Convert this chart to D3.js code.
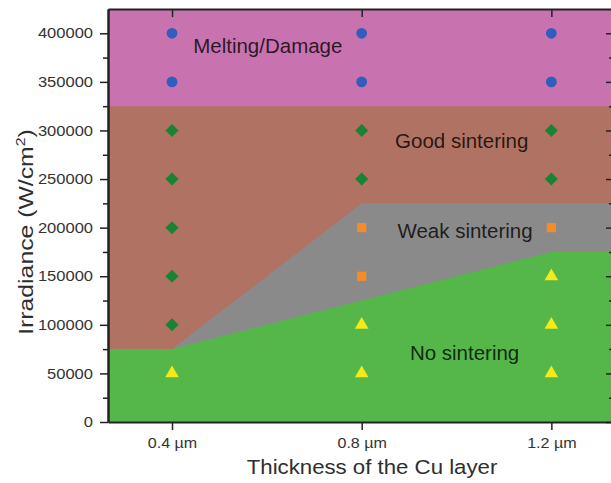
<!DOCTYPE html>
<html>
<head>
<meta charset="utf-8">
<script src="https://cdn.jsdelivr.net/npm/d3@7"></script>
<style>
  body { margin: 0; background: #fff; }
  text { font-family: "Liberation Sans", Arial, sans-serif; }
</style>
</head>
<body>
<svg id="chart" width="611" height="483"></svg>
<script>
// Cu layer thickness (µm) and the tick labels shown for it
const thicknessTicks = [0.4, 0.8, 1.2];
const thicknessLabels = ["0.4 µm", "0.8 µm", "1.2 µm"];

// Irradiance ticks (W/cm²)
const irradianceTicks = [0, 50000, 100000, 150000, 200000, 250000, 300000, 350000, 400000];
const irradianceMinorTicks = [25000, 75000, 125000, 175000, 225000, 275000, 325000, 375000];

// Upper edges of the sintering regimes, as [thickness, irradiance]
const noSinteringEdge = [[0.4, 75000], [1.2, 175000]];
const weakSinteringEdge = [[0.4, 75000], [0.8, 225000]];
const goodSinteringEdge = [[0.4, 325000]];

// Observed outcomes, as [thickness, irradiance]
const meltingPoints = [[0.4, 350000], [0.4, 400000], [0.8, 350000], [0.8, 400000], [1.2, 350000], [1.2, 400000]];
const goodPoints = [[0.4, 100000], [0.4, 150000], [0.4, 200000], [0.4, 250000], [0.4, 300000],
                    [0.8, 250000], [0.8, 300000], [1.2, 250000], [1.2, 300000]];
const weakPoints = [[0.8, 150000], [0.8, 200000], [1.2, 200000]];
const noPoints = [[0.4, 50000], [0.8, 50000], [0.8, 100000], [1.2, 50000], [1.2, 100000], [1.2, 150000]];

// Region names and where they sit, as [thickness, irradiance]
const regionNames = ["Melting/Damage", "Good sintering", "Weak sintering", "No sintering"];
const regionAnchors = [[0.602, 380000], [1.011, 282000], [1.018, 189000], [1.017, 63800]];

const svg = d3.select("#chart");
const plotLeft = 108, plotRight = 613, plotTop = 9, plotBottom = 422;
const axisTextStretch = 1.14;   // axis lettering is set wide

const x = d3.scaleLinear().domain([0.265, 1.33]).range([plotLeft, plotRight]);
const y = d3.scaleLinear().domain([0, 425000]).range([plotBottom, plotTop]);
const [xMin, xMax] = x.domain();
const [yMin, yMax] = y.domain();

// Extend an edge flat to both sides of the plot
const extend = edge => [[xMin, edge[0][1]], ...edge, [xMax, edge[edge.length - 1][1]]];

const area = d3.area().x(d => x(d[0])).y0(y(yMin)).y1(d => y(d[1]));

const g = svg.append("g");
g.append("path").attr("d", area([[xMin, yMax], [xMax, yMax]])).attr("fill", "#c873b0");
g.append("path").attr("d", area(extend(goodSinteringEdge))).attr("fill", "#b07262");
g.append("path").attr("d", area(extend(weakSinteringEdge))).attr("fill", "#8a8a8a");
g.append("path").attr("d", area(extend(noSinteringEdge))).attr("fill", "#55b74a");

// Region names
g.selectAll("text.region").data(regionNames).join("text")
  .attr("class", "region")
  .attr("x", (d, i) => x(regionAnchors[i][0]))
  .attr("y", (d, i) => y(regionAnchors[i][1]))
  .attr("text-anchor", "middle")
  .attr("font-size", 20.5)
  .attr("fill", "#000")
  .attr("fill-opacity", 0.8)
  .text(d => d);

// Markers
function drawMarkers(points, type, size, color, rotate) {
  const sym = d3.symbol().type(type).size(size)();
  g.append("g").selectAll("path").data(points).join("path")
    .attr("d", sym)
    .attr("transform", d => `translate(${x(d[0])},${y(d[1])}) rotate(${rotate})`)
    .attr("fill", color);
}
drawMarkers(meltingPoints, d3.symbolCircle, 92, "#335cbf", 0);
drawMarkers(goodPoints, d3.symbolSquare, 84, "#168434", 45);
drawMarkers(weakPoints, d3.symbolSquare, 85, "#f58c2a", 0);
drawMarkers(noPoints, d3.symbolTriangle, 80, "#f4ea18", 0);

// Axes
function styleAxis(sel) {
  sel.selectAll(".domain").attr("stroke", "#222").attr("stroke-width", 2);
  sel.selectAll(".tick line").attr("stroke", "#222").attr("stroke-width", 1.5);
  sel.selectAll(".tick text").attr("fill", "#333").attr("font-size", 14.5)
    .attr("font-family", "Liberation Sans, Arial, sans-serif");
}

const axisY = svg.append("g").attr("transform", `translate(${plotLeft},0)`)
  .call(d3.axisLeft(y).tickValues(irradianceTicks).tickSize(8).tickSizeOuter(0).tickPadding(7).tickFormat(d3.format("d")));
styleAxis(axisY);
axisY.selectAll(".tick text")
  .attr("transform", `translate(-15,0) scale(${axisTextStretch},1)`)
  .attr("x", 0);

const axisYMinor = svg.append("g").attr("transform", `translate(${plotLeft},0)`)
  .call(d3.axisLeft(y).tickValues(irradianceMinorTicks).tickSize(5).tickSizeOuter(0).tickFormat(""));
styleAxis(axisYMinor);

const axisR = svg.append("g").attr("transform", `translate(${plotRight},0)`)
  .call(d3.axisLeft(y).tickValues(irradianceTicks).tickSize(7).tickSizeOuter(0).tickFormat(""));
styleAxis(axisR);
const axisRMinor = svg.append("g").attr("transform", `translate(${plotRight},0)`)
  .call(d3.axisLeft(y).tickValues(irradianceMinorTicks).tickSize(4).tickSizeOuter(0).tickFormat(""));
styleAxis(axisRMinor);

const axisX = svg.append("g").attr("transform", `translate(0,${plotBottom})`)
  .call(d3.axisBottom(x).tickValues(thicknessTicks).tickSize(8).tickSizeOuter(0).tickPadding(8)
    .tickFormat((d, i) => thicknessLabels[i]));
styleAxis(axisX);
axisX.selectAll(".tick text").attr("transform", `scale(${axisTextStretch - 0.03},1)`);

const axisTop = svg.append("g").attr("transform", `translate(0,${plotTop})`)
  .call(d3.axisBottom(x).tickValues(thicknessTicks).tickSize(8).tickSizeOuter(0).tickFormat(""));
styleAxis(axisTop);

// Axis titles
svg.append("text")
  .attr("transform", `translate(372,474) scale(${axisTextStretch},1)`)
  .attr("text-anchor", "middle")
  .attr("font-size", 19.5)
  .attr("fill", "#2e2e2e")
  .text("Thickness of the Cu layer");

const yTitle = svg.append("text")
  .attr("transform", `translate(33,232) rotate(-90) scale(${axisTextStretch + 0.04},1)`)
  .attr("text-anchor", "middle")
  .attr("font-size", 21)
  .attr("fill", "#2e2e2e");
yTitle.append("tspan").text("Irradiance (W/cm");
yTitle.append("tspan").attr("font-size", 13.5).attr("dy", -8).text("2");
yTitle.append("tspan").attr("dy", 8).text(")");
</script>
</body>
</html>
